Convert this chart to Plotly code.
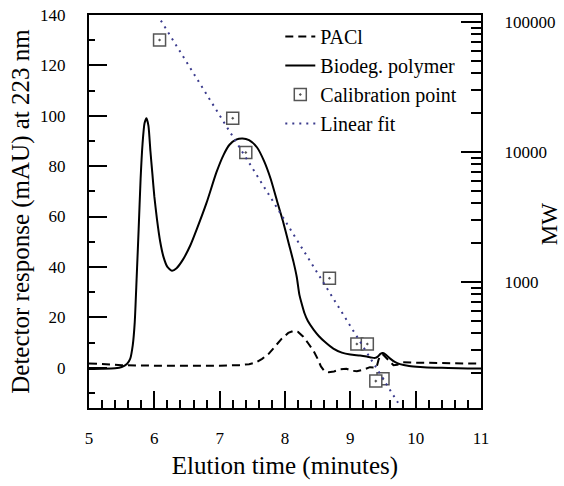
import plotly.graph_objects as go

# ---------------- data ----------------
bio_t = [5.00, 5.20, 5.40, 5.50, 5.58, 5.63, 5.67, 5.70, 5.73, 5.76, 5.79, 5.82, 5.85, 5.88,
         5.91, 5.94, 5.97, 6.00, 6.04, 6.09, 6.14, 6.20, 6.27, 6.34, 6.44, 6.55, 6.65, 6.80,
         6.95, 7.06, 7.15, 7.25, 7.35, 7.45, 7.57, 7.68, 7.78, 7.88, 7.97, 8.06, 8.13, 8.18,
         8.22, 8.26, 8.30, 8.35, 8.44, 8.52, 8.60, 8.74, 8.87, 9.00, 9.15, 9.25, 9.33, 9.38,
         9.42, 9.46, 9.50, 9.55, 9.61, 9.68, 9.76, 9.90, 10.07, 10.30, 10.50, 10.80, 11.00]
bio_v = [-0.5, -0.4, -0.2, 0.3, 1.5, 3.5, 9.0, 18.0, 36.0, 55.0, 75.0, 89.0, 97.0, 99.0,
         96.0, 86.0, 77.0, 68.0, 59.0, 50.0, 44.0, 40.0, 38.5, 39.5, 43.0, 48.5, 55.0, 65.5,
         77.5, 84.5, 88.5, 90.5, 91.0, 90.3, 87.5, 82.0, 75.0, 66.0, 58.0, 49.0, 42.0, 36.0,
         29.0, 25.0, 21.5, 18.5, 15.0, 12.5, 10.5, 7.6, 6.0, 5.2, 4.8, 4.4, 4.0, 3.9,
         4.4, 5.5, 5.8, 5.0, 3.6, 2.3, 1.4, 0.7, 0.3, 0.0, -0.1, -0.3, -0.3]

pacl_t = [5.00, 5.30, 5.50, 6.00, 6.50, 7.00, 7.30, 7.45, 7.55, 7.65, 7.75, 7.85, 7.95, 8.05,
          8.13, 8.20, 8.28, 8.36, 8.44, 8.50, 8.55, 8.60, 8.67, 8.75, 8.85, 8.94, 9.02, 9.10,
          9.20, 9.30, 9.38, 9.40, 9.43, 9.46, 9.50, 9.55, 9.60, 9.66, 9.72, 9.80, 10.00, 10.50, 11.00]
pacl_v = [1.7, 1.2, 1.0, 0.8, 0.7, 0.8, 1.0, 1.4, 2.0, 3.5, 5.5, 8.5, 11.5, 13.8,
          14.6, 14.2, 12.3, 9.5, 6.5, 3.5, 0.5, -1.2, -1.8, -1.5, -0.6, -0.4, -1.2, -1.4,
          -0.8, 0.2, -0.2, 0.0, 3.0, 5.0, 5.2, 4.0, 2.5, 1.0, 1.2, 2.2, 2.0, 1.8, 1.6]

cal_t = [6.08, 7.20, 7.40, 8.68, 9.10, 9.26, 9.50, 9.39]
cal_mw = [72300, 18070, 9860, 1062, 332, 332, 179, 172]

fit_t = [6.10, 9.73]
fit_mw = [101900, 117]

x_range = [5, 11]
y_range = [-16, 140]
mw_log_range = [2.0285, 5.0515]
mw_ticks = [1000, 10000, 100000]
mw_minor = [m * 10 ** e for e in (2, 3, 4) for m in range(2, 10)]

FONT = "Liberation Serif"

fig = go.Figure()
fig.add_trace(go.Scatter(x=pacl_t, y=pacl_v, mode="lines", name="PACl",
                         line=dict(color="black", width=2, dash="8px,5px")))
fig.add_trace(go.Scatter(x=bio_t, y=bio_v, mode="lines", name="Biodeg. polymer",
                         line=dict(color="black", width=2, shape="spline", smoothing=0.6)))
fig.add_trace(go.Scatter(x=cal_t, y=cal_mw, mode="markers", name="Calibration point", yaxis="y2",
                         marker=dict(symbol="square-dot", size=12, color="white",
                                     line=dict(color="#555555", width=1.5))))
fig.add_trace(go.Scatter(x=fit_t, y=fit_mw, mode="lines", name="Linear fit", yaxis="y2",
                         line=dict(color="#3a3a8c", width=2, dash="2px,5px")))

fig.update_layout(
    width=564, height=486,
    margin=dict(l=89, r=83, t=15, b=78, autoexpand=False),
    paper_bgcolor="white", plot_bgcolor="white",
    font=dict(family=FONT, color="black", size=17),
    showlegend=True,
    legend=dict(x=0.488, y=0.995, xanchor="left", yanchor="top",
                bgcolor="rgba(0,0,0,0)", font=dict(size=20), tracegroupgap=0),
    xaxis=dict(range=x_range, dtick=1, showgrid=False, zeroline=False, automargin=False,
               showline=True, linecolor="black", linewidth=2, mirror=True,
               ticks="inside", ticklen=17, tickwidth=1.5, tickcolor="black",
               minor=dict(dtick=0.2, ticks="inside", ticklen=8, tickwidth=1.5, tickcolor="black"),
               ticklabelstandoff=14,
               title=dict(text="Elution time (minutes)", font=dict(size=25), standoff=9)),
    yaxis=dict(range=y_range, tick0=0, dtick=20, showgrid=False, zeroline=False, automargin=False,
               showline=True, linecolor="black", linewidth=2,
               ticks="inside", ticklen=18, tickwidth=1.5, tickcolor="black",
               minor=dict(dtick=10, ticks="inside", ticklen=6, tickwidth=1.5, tickcolor="black"),
               ticklabelstandoff=18,
               title=dict(text="Detector response (mAU) at 223 nm", font=dict(size=25), standoff=3)),
    yaxis2=dict(type="log", range=mw_log_range, overlaying="y", side="right", automargin=False,
                showgrid=False, zeroline=False, showline=True, linecolor="black", linewidth=2,
                tickvals=mw_ticks, ticktext=[str(v) for v in mw_ticks],
                ticks="inside", ticklen=20, tickwidth=1.5, tickcolor="black",
                minor=dict(tickvals=mw_minor, ticks="inside", ticklen=10, tickwidth=1.5, tickcolor="black"),
                ticklabelstandoff=18),
    annotations=[dict(text="MW", textangle=-90, xref="paper", yref="paper",
                      x=1.174, y=0.468, xanchor="center", yanchor="middle",
                      showarrow=False, font=dict(size=23))],
)

fig.write_html("out.html")
